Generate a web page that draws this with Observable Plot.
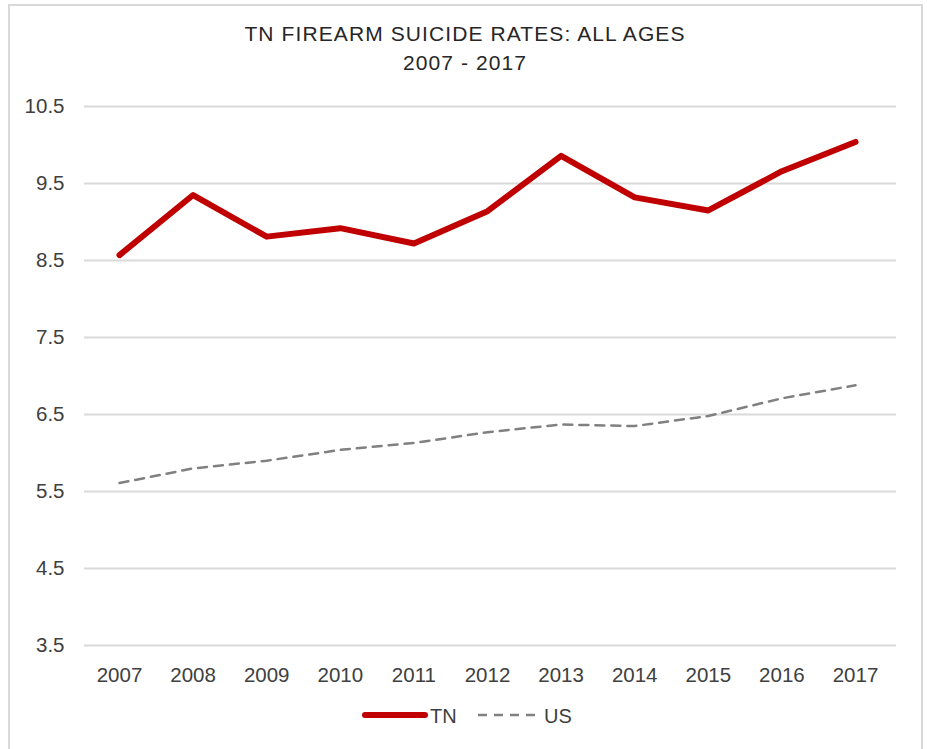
<!DOCTYPE html>
<html>
<head>
<meta charset="utf-8">
<script src="https://cdn.jsdelivr.net/npm/d3@7"></script>
<script src="https://cdn.jsdelivr.net/npm/@observablehq/plot@0.6"></script>
<style>
  html, body { margin: 0; padding: 0; background: #fff; }
  body { width: 927px; height: 749px; position: relative; overflow: hidden; font-family: "Liberation Sans", Arial, sans-serif; color: #404040; }
  #frame { position: absolute; left: 8px; top: 4px; width: 911px; height: 800px; border: 2px solid #d9d9d9; border-bottom: none; }
  .title { position: absolute; left: 10px; width: 910px; text-align: center; font-size: 21px; line-height: 21px; letter-spacing: 1.1px; color: #262626; white-space: nowrap; }
  #chart { position: absolute; left: 0; top: 0; }
  #legend { position: absolute; left: 0; top: 706px; width: 927px; height: 20px; font-size: 20px; line-height: 20px; }
  #legend .item { position: absolute; top: 0; }
  #legend svg { position: absolute; }
</style>
</head>
<body>
<div id="frame"></div>
<div class="title" style="top:23px">TN FIREARM SUICIDE RATES: ALL AGES</div>
<div class="title" style="top:51.5px">2007 - 2017</div>
<div id="chart"></div>
<div id="legend"></div>
<script>
const years = [2007, 2008, 2009, 2010, 2011, 2012, 2013, 2014, 2015, 2016, 2017];
const tnRates = [8.57, 9.35, 8.81, 8.92, 8.72, 9.14, 9.86, 9.32, 9.15, 9.66, 10.04];
const usRates = [5.61, 5.80, 5.90, 6.04, 6.13, 6.27, 6.37, 6.35, 6.48, 6.71, 6.88];
const yTicks = [3.5, 4.5, 5.5, 6.5, 7.5, 8.5, 9.5, 10.5];
const seriesNames = ["TN", "US"];
const seriesColors = ["#c00000", "#808080"];

const tn = years.map((y, i) => ({year: y, value: tnRates[i]}));
const us = years.map((y, i) => ({year: y, value: usRates[i]}));

const chart = Plot.plot({
  width: 927,
  height: 700,
  marginLeft: 84,
  marginRight: 31,
  marginTop: 106,
  marginBottom: 55,
  style: {fontSize: "20.5px", fontFamily: "'Liberation Sans', Arial, sans-serif", color: "#404040", background: "transparent", overflow: "visible"},
  x: {type: "point", domain: years, range: [119, 855], padding: 0, round: false, label: null, tickSize: 0, tickPadding: 22, tickFormat: d => String(d)},
  y: {domain: [3.5, 10.5], ticks: yTicks, label: null, tickSize: 0, tickPadding: 20, tickFormat: d => d.toFixed(1)},
  marks: [
    Plot.ruleY(yTicks, {stroke: "#d9d9d9", strokeWidth: 2}),
    Plot.line(us, {x: "year", y: "value", stroke: seriesColors[1], strokeWidth: 2.5, strokeDasharray: "9,7"}),
    Plot.line(tn, {x: "year", y: "value", stroke: seriesColors[0], strokeWidth: 6, strokeLinecap: "round", strokeLinejoin: "round"})
  ]
});
document.getElementById("chart").appendChild(chart);

// Legend
const legend = document.getElementById("legend");
legend.innerHTML = `
  <svg width="70" height="20" style="left:360px;top:-1px"><line x1="5" y1="10" x2="65" y2="10" stroke="${seriesColors[0]}" stroke-width="6" stroke-linecap="round"/></svg>
  <span class="item" style="left:430px">${seriesNames[0]}</span>
  <svg width="60" height="20" style="left:477px;top:-1px"><line x1="1" y1="10" x2="58" y2="10" stroke="${seriesColors[1]}" stroke-width="2.5" stroke-dasharray="9,7"/></svg>
  <span class="item" style="left:544px">${seriesNames[1]}</span>
`;
</script>
</body>
</html>
